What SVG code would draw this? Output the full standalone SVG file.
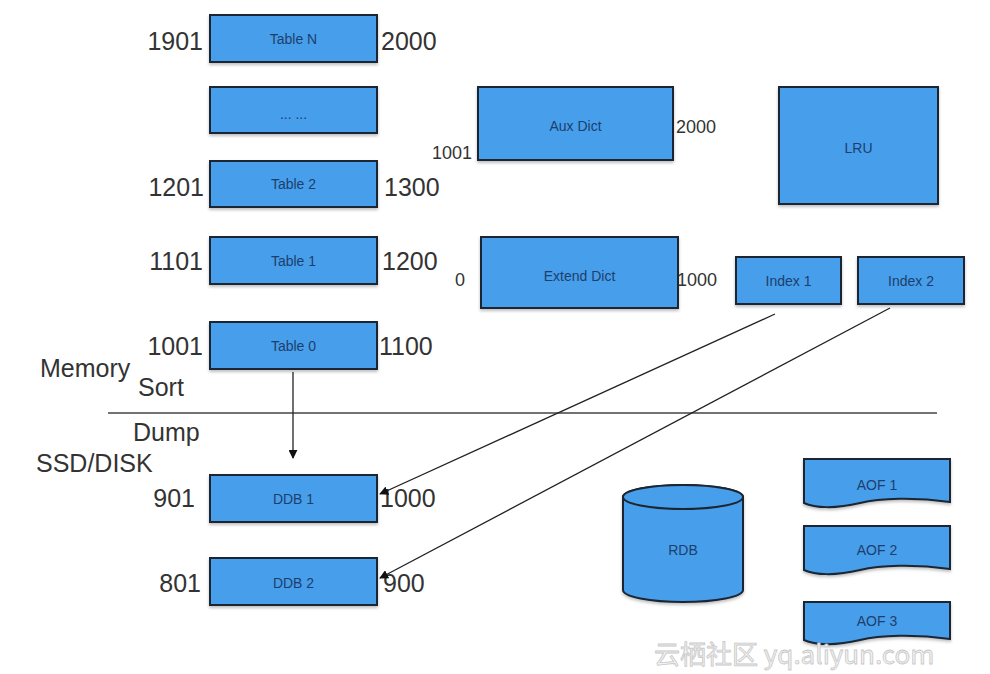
<svg xmlns="http://www.w3.org/2000/svg" width="990" height="674" viewBox="0 0 990 674">
<defs>
<style>
.box{fill:#479eea;stroke:#1c2633;stroke-width:2}
.nt{font-family:"Liberation Sans",Arial,sans-serif;font-size:14px;fill:#1d3f6e;text-anchor:middle}
.lb{font-family:"Liberation Sans",Arial,sans-serif;font-size:25px;fill:#333}
.sm{font-family:"Liberation Sans",Arial,sans-serif;font-size:18px;fill:#333}
.cn{stroke:#222;stroke-width:1.3;fill:none}
</style>
<marker id="ah" viewBox="0 0 10 10" refX="9" refY="5" markerWidth="9" markerHeight="9" markerUnits="userSpaceOnUse" orient="auto">
<path d="M0,0 L10,5 L0,10 z" fill="#111"/>
</marker>
<filter id="sh" x="-5%" y="-5%" width="110%" height="120%"><feDropShadow dx="0" dy="2" stdDeviation="1.5" flood-color="#000" flood-opacity="0.25"/></filter>
</defs>
<rect width="990" height="674" fill="#fff"/>

<g id="tableN"><rect class="box" filter="url(#sh)" x="210" y="15" width="167" height="47"/><text class="nt" x="293.5" y="44">Table N</text></g>
<g id="tableDots"><rect class="box" filter="url(#sh)" x="210" y="87" width="167" height="46"/><text class="nt" x="293.5" y="119">... ...</text></g>
<g id="table2"><rect class="box" filter="url(#sh)" x="210" y="161" width="167" height="46"/><text class="nt" x="293.5" y="189">Table 2</text></g>
<g id="table1"><rect class="box" filter="url(#sh)" x="210" y="237" width="167" height="47"/><text class="nt" x="293.5" y="266">Table 1</text></g>
<g id="table0"><rect class="box" filter="url(#sh)" x="210" y="322" width="167" height="47"/><text class="nt" x="293.5" y="351">Table 0</text></g>
<g id="ddb1"><rect class="box" filter="url(#sh)" x="210" y="475" width="167" height="47"/><text class="nt" x="293.5" y="504">DDB 1</text></g>
<g id="ddb2"><rect class="box" filter="url(#sh)" x="210" y="558" width="167" height="47"/><text class="nt" x="293.5" y="588">DDB 2</text></g>

<g id="auxDict"><rect class="box" filter="url(#sh)" x="478" y="87" width="195" height="73"/><text class="nt" x="575.5" y="131">Aux Dict</text></g>
<g id="lru"><rect class="box" filter="url(#sh)" x="779" y="87" width="159" height="117"/><text class="nt" x="858.5" y="153">LRU</text></g>
<g id="extendDict"><rect class="box" filter="url(#sh)" x="481" y="237" width="197" height="71"/><text class="nt" x="579.5" y="281">Extend Dict</text></g>
<g id="index1"><rect class="box" filter="url(#sh)" x="736" y="257" width="105" height="47"/><text class="nt" x="788.5" y="286">Index 1</text></g>
<g id="index2"><rect class="box" filter="url(#sh)" x="858" y="257" width="106" height="47"/><text class="nt" x="911" y="286">Index 2</text></g>

<g id="rdb">
<path class="box" filter="url(#sh)" d="M623,497 L623,590 A60,12 0 0 0 743,590 L743,497 A60,12 0 0 0 623,497 Z"/>
<ellipse class="box" cx="683" cy="497" rx="60" ry="12"/>
<text class="nt" x="683" y="555">RDB</text>
</g>
<g id="aof1"><path class="box" filter="url(#sh)" d="M804,459 L950,459 L950,502 C915,497 880,498 860,503 C835,509 815,508 804,503 Z"/><text class="nt" x="877" y="490">AOF 1</text></g>
<g id="aof2"><path class="box" filter="url(#sh)" d="M804,526 L950,526 L950,569 C915,564 880,565 860,570 C835,576 815,575 804,570 Z"/><text class="nt" x="877" y="555">AOF 2</text></g>
<g id="aof3"><path class="box" filter="url(#sh)" d="M804,602 L950,602 L950,639 C915,634 880,635 860,640 C835,646 815,645 804,640 Z"/><text class="nt" x="877" y="626">AOF 3</text></g>

<g id="labels">
<text class="lb" x="203" y="50" text-anchor="end">1901</text>
<text class="lb" x="381" y="50">2000</text>
<text class="lb" x="204" y="196" text-anchor="end">1201</text>
<text class="lb" x="384" y="196">1300</text>
<text class="lb" x="203" y="270" text-anchor="end">1101</text>
<text class="lb" x="382" y="270">1200</text>
<text class="lb" x="203" y="355" text-anchor="end">1001</text>
<text class="lb" x="379" y="355">1100</text>
<text class="lb" x="40" y="377">Memory</text>
<text class="lb" x="138" y="396">Sort</text>
<text class="lb" x="133" y="441">Dump</text>
<text class="lb" x="36" y="472">SSD/DISK</text>
<text class="lb" x="195" y="507" text-anchor="end">901</text>
<text class="lb" x="380" y="507">1000</text>
<text class="lb" x="201" y="592" text-anchor="end">801</text>
<text class="lb" x="383" y="592">900</text>
<text class="sm" x="432" y="159">1001</text>
<text class="sm" x="676" y="133">2000</text>
<text class="sm" x="455" y="286">0</text>
<text class="sm" x="677" y="286">1000</text>
</g>

<g id="connectors">
<line x1="108" y1="413" x2="937" y2="413" stroke="#444" stroke-width="1.3"/>
<line class="cn" x1="293" y1="372" x2="293" y2="458" marker-end="url(#ah)"/>
<line class="cn" x1="775" y1="314" x2="380" y2="494" marker-end="url(#ah)"/>
<line class="cn" x1="890" y1="308" x2="380" y2="578" marker-end="url(#ah)"/>
</g>

<text x="654" y="664" font-family="'Noto Sans CJK SC','Liberation Sans',sans-serif" font-size="26" fill="#f2f2f2" stroke="#c8c8c8" stroke-width="0.8">云栖社区 yq.aliyun.com</text>
</svg>
